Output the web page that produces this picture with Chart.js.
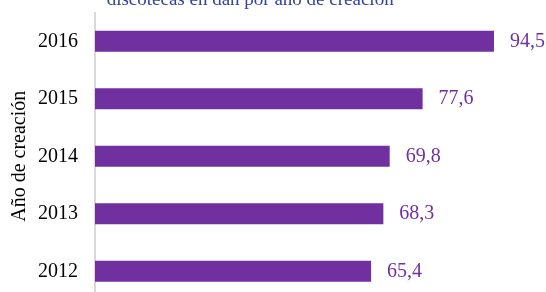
<!DOCTYPE html>
<html>
<head>
<meta charset="utf-8">
<script src="https://cdn.jsdelivr.net/npm/chart.js@4"></script>
<style>
    body { margin: 0; overflow: hidden; background: #fff; }
    #wrap { position: absolute; top: -30px; left: 0; width: 546px; height: 330px; }
</style>
</head>
<body>
<div id="wrap"><canvas id="chart"></canvas></div>
<script>
// datos del gráfico
const years = ['2016', '2015', '2014', '2013', '2012']
const values = [94.5, 77.6, 69.8, 68.3, 65.4]
const titleText = 'discotecas en dan por año de creación'
const axisTitle = 'Año de creación'

const PURPLE = '#7030A0'
const FONT = "'Liberation Serif', 'Times New Roman', serif"

// etiqueta de valor al final de cada barra
const valueLabels = {
    id: 'valueLabels',
    afterDatasetsDraw(chart){
        let ctx = chart.ctx
        let meta = chart.getDatasetMeta(0)
        ctx.save()
        ctx.font = '20px ' + FONT
        ctx.fillStyle = PURPLE
        ctx.textAlign = 'left'
        ctx.textBaseline = 'middle'
        meta.data.forEach((bar, i) => {
            let txt = values[i].toFixed(1).replace('.', ',')
            ctx.fillText(txt, bar.x + 16, bar.y)
        })
        ctx.restore()
    }
}

let ctx = document.getElementById('chart').getContext('2d')
let chart = new Chart(ctx, {
    type: 'bar',
    data: {
        labels: years,
        datasets: [{
            data: values,
            backgroundColor: PURPLE,
            borderWidth: 0,
            categoryPercentage: 1,
            barPercentage: 0.365
        }]
    },
    options: {
        indexAxis: 'y',
        responsive: true,
        maintainAspectRatio: false,
        animation: false,
        devicePixelRatio: 1,
        layout: { padding: { left: 0, right: 45.7, top: 0, bottom: 0 } },
        scales: {
            x: {
                display: false,
                min: 0,
                max: 96
            },
            y: {
                grid: { display: false, drawTicks: false },
                border: { display: true, color: '#D9D9D9', width: 2 },
                ticks: {
                    padding: 17,
                    color: '#000',
                    font: { family: FONT, size: 20 }
                },
                title: {
                    display: true,
                    text: axisTitle,
                    color: '#000',
                    padding: { top: 8, bottom: 0 },
                    font: { family: FONT, size: 20 }
                },
                afterFit(scale){
                    scale.width = 95
                    // sin relleno arriba/abajo, el área llega al borde
                    scale.paddingTop = 0
                    scale.paddingBottom = 0
                }
            }
        },
        plugins: {
            legend: { display: false },
            tooltip: { enabled: false },
            title: {
                display: true,
                text: titleText,
                color: '#33439E',
                padding: { top: 19, bottom: 0.7 },
                font: { family: FONT, size: 19, weight: 'normal' }
            }
        }
    },
    plugins: [valueLabels]
})
</script>
</body>
</html>
